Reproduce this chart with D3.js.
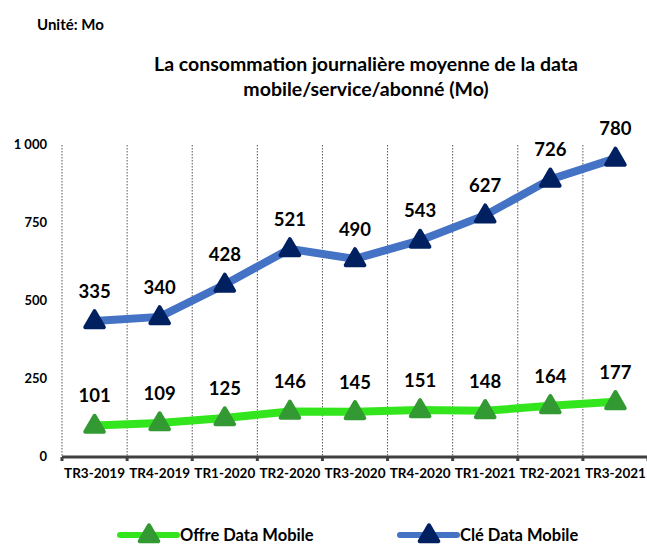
<!DOCTYPE html>
<html>
<head>
<meta charset="utf-8">
<script src="https://cdn.jsdelivr.net/npm/d3@7"></script>
<style>
  body { margin: 0; background: #fff; }
  text { font-family: Lato, "Open Sans", sans-serif; font-weight: bold; fill: #000; }
</style>
</head>
<body>
<div id="chart"></div>
<script>
var quarters = ["TR3-2019", "TR4-2019", "TR1-2020", "TR2-2020", "TR3-2020", "TR4-2020", "TR1-2021", "TR2-2021", "TR3-2021"];
var offre = [101, 109, 125, 146, 145, 151, 148, 164, 177];
var cle = [335, 340, 428, 521, 490, 543, 627, 726, 780];
var yTicks = [0, 250, 500, 750, 1000];

var width = 647, height = 546;
var margin = {top: 145, right: 0, bottom: 89, left: 62};

var svg = d3.select("#chart").append("svg")
    .attr("width", width)
    .attr("height", height);

// stacked lines: Clé is drawn on top of Offre
var rows = quarters.map(function(q, i) { return {q: q, offre: offre[i], cle: cle[i]}; });
var stack = d3.stack().keys(["offre", "cle"])(rows);

var x = d3.scaleBand()
    .domain(quarters)
    .range([margin.left, 648]);

var y = d3.scaleLinear()
    .domain([0, 1000])
    .range([height - margin.bottom, margin.top]);

// vertical dotted separators
var edges = quarters.map(function(q) { return x(q); }).concat([x.range()[1]]);
svg.selectAll(".sep").data(edges)
  .join("line")
    .attr("x1", function(d) { return d; })
    .attr("x2", function(d) { return d; })
    .attr("y1", y(1000))
    .attr("y2", y(0))
    .attr("stroke", "#555")
    .attr("stroke-width", 1)
    .attr("stroke-dasharray", "1.5,1.5");

// y axis labels
svg.selectAll(".ytick").data(yTicks)
  .join("text")
    .attr("x", 47)
    .attr("y", function(d) { return y(d) + 4; })
    .attr("text-anchor", "end")
    .style("font-size", "13px")
    .text(function(d) { return d === 1000 ? "1 000" : d; });

// x axis
svg.append("line")
    .attr("x1", margin.left)
    .attr("x2", 647)
    .attr("y1", y(0))
    .attr("y2", y(0))
    .attr("stroke", "#404040")
    .attr("stroke-width", 3);
svg.selectAll(".xtk").data(edges)
  .join("line")
    .attr("x1", function(d) { return d; })
    .attr("x2", function(d) { return d; })
    .attr("y1", y(0))
    .attr("y2", y(0) + 4)
    .attr("stroke", "#404040")
    .attr("stroke-width", 3);
svg.selectAll(".xlab").data(quarters)
  .join("text")
    .attr("x", function(d) { return x(d) + x.bandwidth() / 2; })
    .attr("y", y(0) + 21)
    .attr("text-anchor", "middle")
    .style("font-size", "13.5px")
    .text(function(d) { return d; });

var series = [
  {name: "Offre Data Mobile", layer: stack[0], values: offre, line: "#33e51c", mark: "#339933"},
  {name: "Clé Data Mobile", layer: stack[1], values: cle, line: "#4472c4", mark: "#002060"}
];

var line = d3.line()
    .x(function(d) { return x(d.data.q) + x.bandwidth() / 2; })
    .y(function(d) { return y(d[1]); });

var tri = d3.symbol().type(d3.symbolTriangle).size(150);

series.forEach(function(s) {
  svg.append("path")
      .datum(s.layer)
      .attr("d", line)
      .attr("fill", "none")
      .attr("stroke", s.line)
      .attr("stroke-width", 8);

  svg.selectAll(null).data(s.layer)
    .join("path")
      .attr("d", tri)
      .attr("transform", function(d) { return "translate(" + (x(d.data.q) + x.bandwidth() / 2) + "," + (y(d[1]) + 1) + ")"; })
      .attr("fill", s.mark)
      .attr("stroke", s.mark)
      .attr("stroke-width", 4)
      .attr("stroke-linejoin", "round");

  svg.selectAll(null).data(s.layer)
    .join("text")
      .attr("x", function(d) { return x(d.data.q) + x.bandwidth() / 2; })
      .attr("y", function(d) { return y(d[1]) - 23; })
      .attr("text-anchor", "middle")
      .style("font-size", "18.5px")
      .text(function(d, i) { return s.values[i]; });
});

// titles
svg.append("text")
    .attr("x", 37).attr("y", 30)
    .style("font-size", "15px")
    .text("Unité: Mo");
svg.append("text")
    .attr("x", 366).attr("y", 71)
    .attr("text-anchor", "middle")
    .style("font-size", "19.5px")
    .text("La consommation journalière moyenne de la data");
svg.append("text")
    .attr("x", 366).attr("y", 96)
    .attr("text-anchor", "middle")
    .style("font-size", "19.5px")
    .text("mobile/service/abonné (Mo)");

// legend
var legX = [120, 400];
series.forEach(function(s, i) {
  var lx = legX[i], ly = 535;
  svg.append("line")
      .attr("x1", lx).attr("x2", lx + 57)
      .attr("y1", ly).attr("y2", ly)
      .attr("stroke", s.line)
      .attr("stroke-width", 6)
      .attr("stroke-linecap", "round");
  svg.append("path")
      .attr("d", tri)
      .attr("transform", "translate(" + (lx + 29) + "," + (ly + 1) + ")")
      .attr("fill", s.mark)
      .attr("stroke", s.mark)
      .attr("stroke-width", 4)
      .attr("stroke-linejoin", "round");
  svg.append("text")
      .attr("x", lx + 60).attr("y", ly + 6)
      .style("font-size", "16.5px")
      .text(s.name);
});
</script>
</body>
</html>
